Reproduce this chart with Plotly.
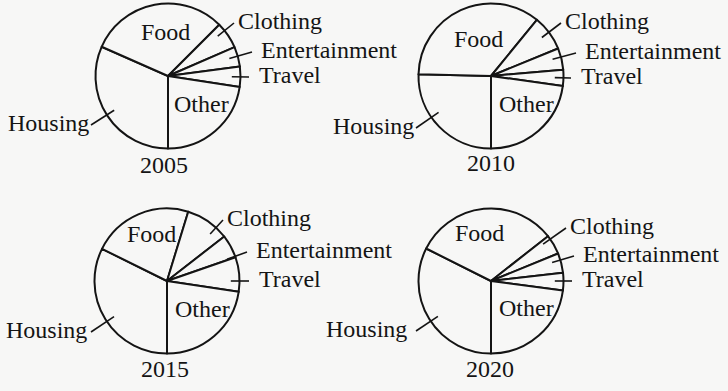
import math
import plotly.graph_objects as go

W, H = 728, 391

# ---------------- data ----------------
# listed clockwise, starting at 6 o'clock
categories = ["Housing", "Food", "Clothing", "Entertainment", "Travel", "Other"]
years = ["2005", "2010", "2015", "2020"]
values_2005 = [31.6, 30.9, 6.0, 4.4, 4.5, 22.6]
values_2010 = [25.4, 35.5, 7.9, 4.8, 3.6, 22.8]
values_2015 = [32.3, 22.4, 9.75, 5.2, 7.7, 22.6]
values_2020 = [32.4, 32.0, 4.4, 4.4, 3.9, 22.9]
series = {"2005": values_2005, "2010": values_2010,
          "2015": values_2015, "2020": values_2020}

# ---------------- style / layout ----------------
BG = "#f7f7f6"
INK = "#141414"
FONT = "Liberation Serif"
FS = 24
R = 72.5
centers = {"2005": (168, 76), "2010": (491, 76), "2015": (167, 281), "2020": (491, 281)}

inside_offsets = {
    "2005": {"Food": (-3, -42), "Other": (33, 30)},
    "2010": {"Food": (-13, -35), "Other": (35, 30)},
    "2015": {"Food": (-16, -45), "Other": (35, 30)},
    "2020": {"Food": (-12, -46), "Other": (35, 29)},
}
tails = {
    "2005": {"Clothing": (66, -53), "Entertainment": (84, -24), "Travel": (81, 1), "Housing": (-77, 49)},
    "2010": {"Clothing": (70, -53), "Entertainment": (85, -23), "Travel": (80, 2), "Housing": (-75, 52)},
    "2015": {"Clothing": (56, -61), "Entertainment": (80, -29), "Travel": (82, 0), "Housing": (-76, 51)},
    "2020": {"Clothing": (75, -53), "Entertainment": (83, -25), "Travel": (81, 0), "Housing": (-75, 50)},
}
gaps = {"Clothing": 3, "Entertainment": 8, "Travel": 9}
housing_gap = {"2005": 1, "2010": 1, "2015": 3, "2020": 8}
year_offsets = {"2005": (-4, 89), "2010": (0, 87), "2015": (-2, 88), "2020": (-1, 88)}
TEXT_DY = -2


def px(x, y):
    return x / W, 1 - y / H


fig = go.Figure()
annotations = []
shapes = []

for yr in years:
    cx, cy = centers[yr]
    fig.add_trace(go.Pie(
        values=series[yr], labels=categories, sort=False,
        direction="clockwise", rotation=180,
        textinfo="none", textposition="none", hoverinfo="label+percent",
        marker=dict(colors=[BG] * len(categories), line=dict(color=INK, width=2)),
        domain=dict(x=[(cx - R) / W, (cx + R) / W],
                    y=[1 - (cy + R) / H, 1 - (cy - R) / H]),
        showlegend=False,
    ))
    # inside labels
    for lab, (dx, dy) in inside_offsets[yr].items():
        x, y = px(cx + dx, cy + dy + TEXT_DY)
        annotations.append(dict(x=x, y=y, xref="paper", yref="paper", text=lab,
                                showarrow=False, xanchor="center", yanchor="middle",
                                borderpad=0))
    # outside labels with leader lines
    for lab, (tx, ty) in tails[yr].items():
        d = math.hypot(tx, ty)
        ux, uy = tx / d, ty / d
        tipx, tipy = cx + ux * R * 0.88, cy + uy * R * 0.88
        tailx, taily = cx + tx, cy + ty
        x0, y0 = px(tipx, tipy)
        x1, y1 = px(tailx, taily)
        shapes.append(dict(type="line", xref="paper", yref="paper",
                           x0=x0, y0=y0, x1=x1, y1=y1,
                           line=dict(color=INK, width=1.6)))
        if lab == "Housing":
            x, y = px(tailx - housing_gap[yr], taily + TEXT_DY)
            anchor = "right"
        else:
            x, y = px(tailx + gaps[lab], taily + TEXT_DY)
            anchor = "left"
        annotations.append(dict(x=x, y=y, xref="paper", yref="paper", text=lab,
                                showarrow=False, xanchor=anchor, yanchor="middle",
                                borderpad=0))
    # year caption
    dx, dy = year_offsets[yr]
    x, y = px(cx + dx, cy + dy)
    annotations.append(dict(x=x, y=y, xref="paper", yref="paper", text=yr,
                            showarrow=False, xanchor="center", yanchor="middle",
                            borderpad=0))

fig.update_layout(
    width=W, height=H,
    margin=dict(l=0, r=0, t=0, b=0),
    paper_bgcolor=BG, plot_bgcolor=BG,
    font=dict(family=FONT, size=FS, color=INK),
    annotations=annotations, shapes=shapes,
    showlegend=False,
)

fig.write_html("out.html",
               config={"displayModeBar": False},
               post_script="document.body.style.margin='0';document.body.style.background='" + BG + "';")
